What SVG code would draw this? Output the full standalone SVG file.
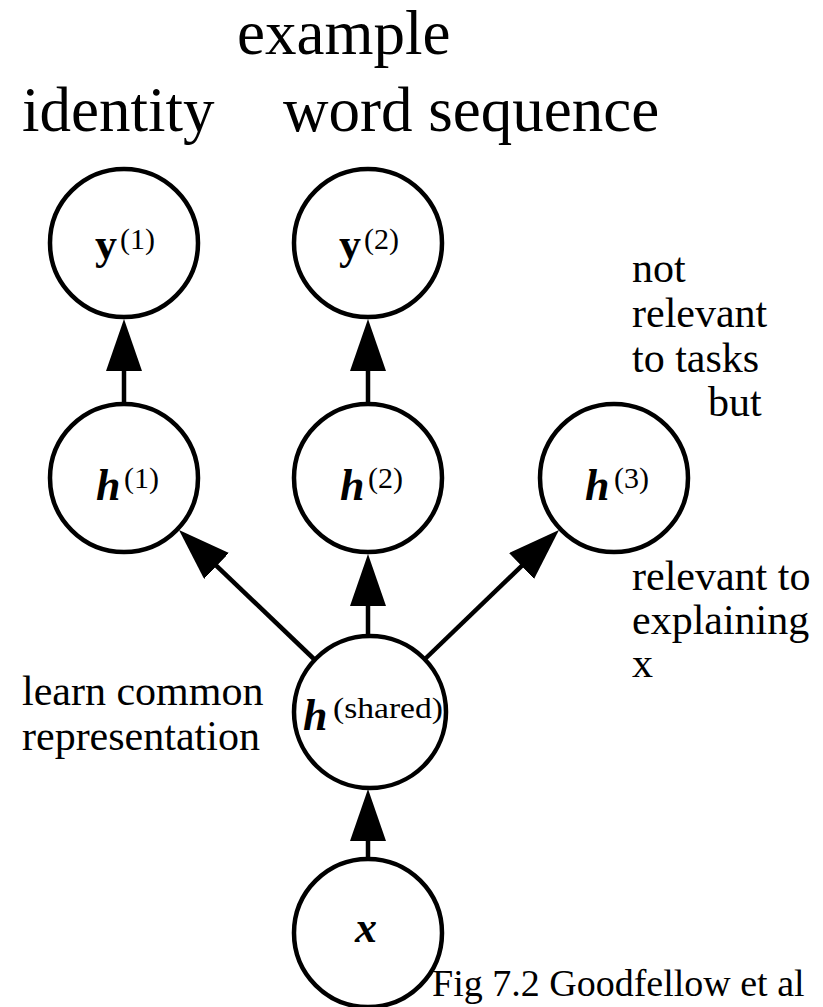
<svg xmlns="http://www.w3.org/2000/svg" width="823" height="1007" viewBox="0 0 823 1007">
<style>
.node{fill:#fff;stroke:#000;stroke-width:4.5}
.lbl{font-family:"Liberation Serif","DejaVu Serif",serif;fill:#000}
.m{font-family:"Liberation Serif","DejaVu Serif",serif;font-size:44px;font-weight:bold;font-style:italic;fill:#000}
.mb{font-family:"Liberation Serif","DejaVu Serif",serif;font-size:44px;font-weight:bold;fill:#000}
.sup{font-family:"Liberation Serif","DejaVu Serif",serif;font-size:30px;fill:#000}
.t62{font-size:63px}
.t42{font-size:42px}
.edge{stroke:#000;stroke-width:4.5;fill:none;marker-end:url(#ah)}
</style>
<defs>
<marker id="ah" viewBox="0 0 52 36" refX="42" refY="18" markerWidth="52" markerHeight="36" markerUnits="userSpaceOnUse" orient="auto">
<path d="M0,0 L52,18 L0,36 Z" fill="#000"/>
</marker>
</defs>
<rect width="823" height="1007" fill="#fff"/>
<g id="titles">
<text class="lbl t62" x="237" y="54">example</text>
<text class="lbl t62" x="22" y="131">identity</text>
<text class="lbl t62" x="283" y="131">word sequence</text>
</g>
<g id="connectors">
<line class="edge" x1="124" y1="402" x2="124" y2="329"/>
<line class="edge" x1="368" y1="402" x2="368" y2="329"/>
<line class="edge" x1="368" y1="636" x2="368" y2="564"/>
<line class="edge" x1="368" y1="857" x2="368" y2="799"/>
<line class="edge" x1="315" y1="660" x2="186.2" y2="536.9"/>
<line class="edge" x1="425" y1="659" x2="551.8" y2="536.9"/>
</g>
<g id="y1">
<circle class="node" cx="124" cy="243" r="74"/>
<text class="mb" x="95" y="259">y</text><text class="sup" x="120" y="249">(1)</text>
</g>
<g id="y2">
<circle class="node" cx="368" cy="243" r="74"/>
<text class="mb" x="339" y="259">y</text><text class="sup" x="364" y="249">(2)</text>
</g>
<g id="h1">
<circle class="node" cx="124" cy="478" r="74"/>
<text class="m" x="96" y="500">h</text><text class="sup" x="124" y="488">(1)</text>
</g>
<g id="h2">
<circle class="node" cx="368" cy="478" r="74"/>
<text class="m" x="340" y="500">h</text><text class="sup" x="368" y="488">(2)</text>
</g>
<g id="h3">
<circle class="node" cx="614" cy="478" r="74"/>
<text class="m" x="585" y="500">h</text><text class="sup" x="614" y="488">(3)</text>
</g>
<g id="hshared">
<circle class="node" cx="370" cy="712" r="76"/>
<text class="m" x="303" y="730">h</text><text class="sup" x="333" y="718" textLength="110" lengthAdjust="spacingAndGlyphs">(shared)</text>
</g>
<g id="x">
<circle class="node" cx="368" cy="933" r="74"/>
<text class="m" x="355" y="942">x</text>
</g>
<g id="notes">
<text class="lbl t42" x="632" y="282">not</text>
<text class="lbl t42" x="632" y="327">relevant</text>
<text class="lbl t42" x="632" y="372">to tasks</text>
<text class="lbl t42" x="708" y="416">but</text>
<text class="lbl t42" x="632" y="590">relevant to</text>
<text class="lbl t42" x="632" y="634">explaining</text>
<text class="lbl t42" x="632" y="677">x</text>
<text class="lbl t42" x="22" y="705">learn common</text>
<text class="lbl t42" x="22" y="750">representation</text>
<text class="lbl" font-size="38" x="432" y="996">Fig 7.2 Goodfellow et al</text>
</g>
</svg>
